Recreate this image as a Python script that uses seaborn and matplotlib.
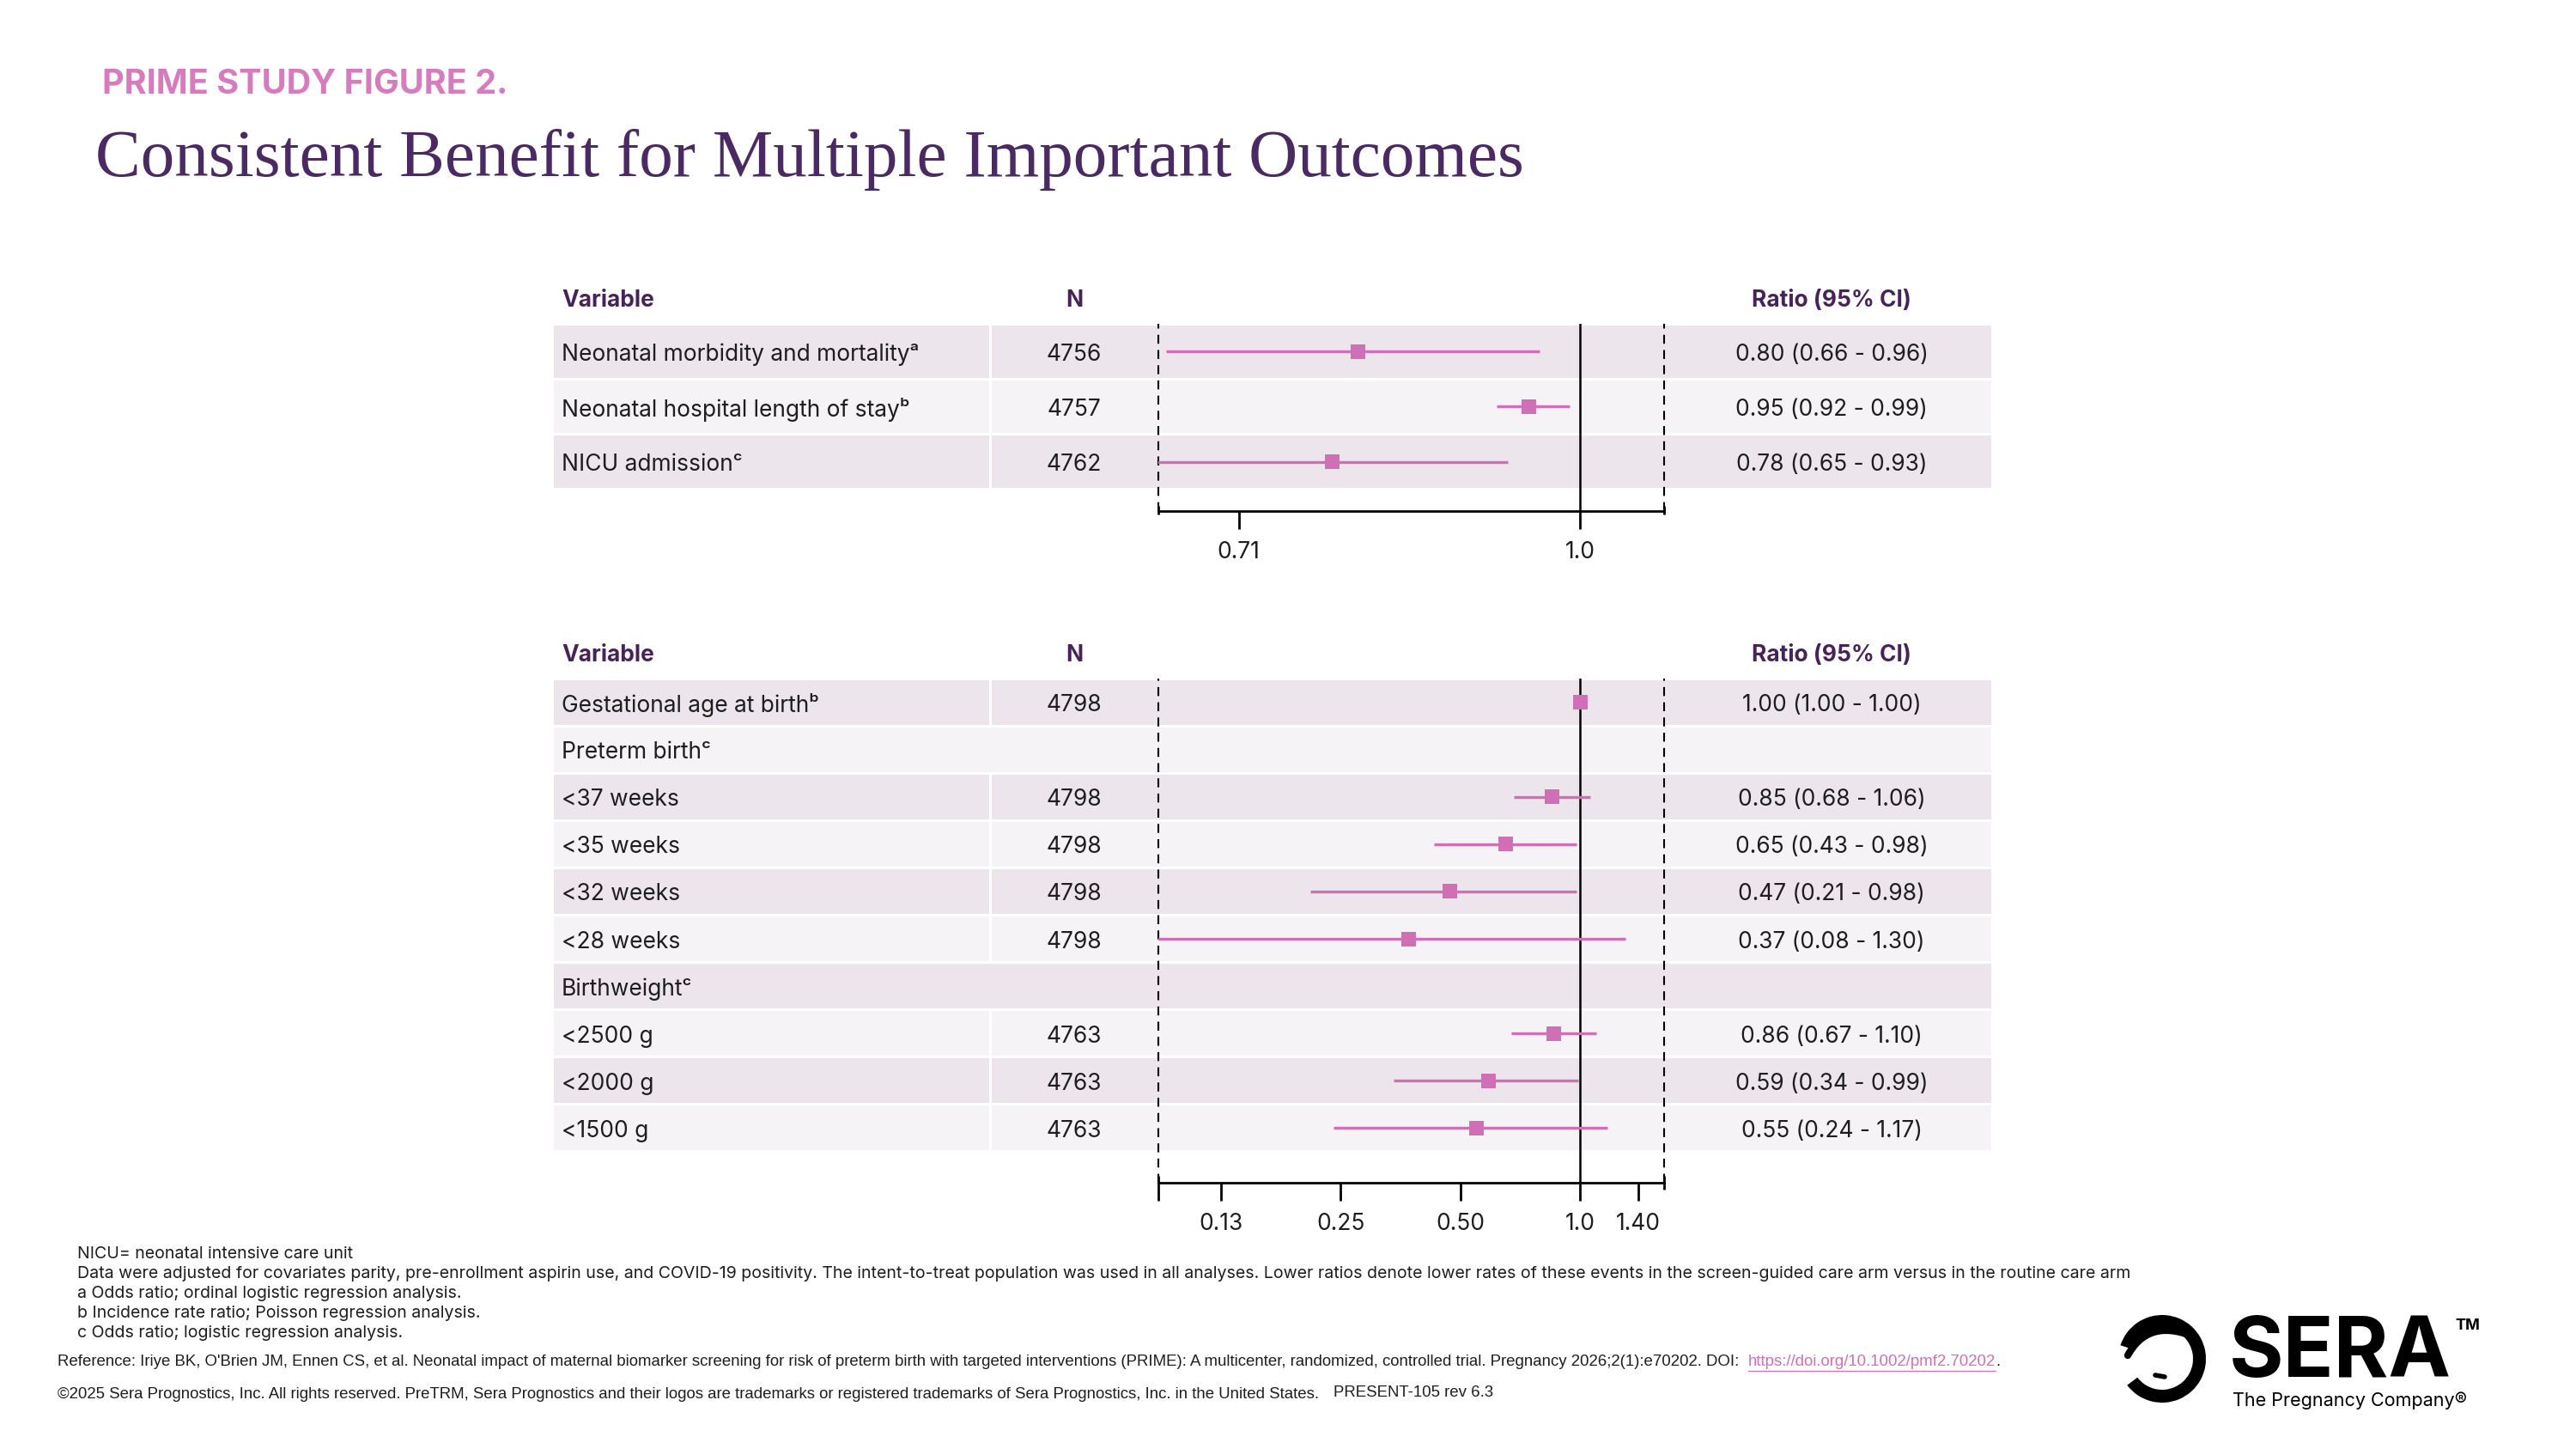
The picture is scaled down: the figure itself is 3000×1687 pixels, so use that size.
import numpy as np
import pandas as pd
import matplotlib
matplotlib.use("Agg")
import matplotlib.pyplot as plt
import seaborn as sns
from matplotlib.patches import Rectangle, Wedge
from matplotlib.ticker import NullLocator

# ---------------- data ----------------
top_variables = ["Neonatal morbidity and mortality", "Neonatal hospital length of stay", "NICU admission"]
top_superscripts = ["ᵃ", "ᵇ", "ᶜ"]
top_n = [4756, 4757, 4762]
top_ratio = [0.80, 0.95, 0.78]
top_lower = [0.66, 0.92, 0.65]
top_upper = [0.96, 0.99, 0.93]
top_ticks = [0.71, 1.0]
top_ticklabels = ["0.71", "1.0"]

bottom_variables = ["Gestational age at birth", "Preterm birth", "<37 weeks", "<35 weeks", "<32 weeks",
                    "<28 weeks", "Birthweight", "<2500 g", "<2000 g", "<1500 g"]
bottom_superscripts = ["ᵇ", "ᶜ", "", "", "", "", "ᶜ", "", "", ""]
bottom_n = [4798, None, 4798, 4798, 4798, 4798, None, 4763, 4763, 4763]
bottom_ratio = [1.00, np.nan, 0.85, 0.65, 0.47, 0.37, np.nan, 0.86, 0.59, 0.55]
bottom_lower = [1.00, np.nan, 0.68, 0.43, 0.21, 0.08, np.nan, 0.67, 0.34, 0.24]
bottom_upper = [1.00, np.nan, 1.06, 0.98, 0.98, 1.30, np.nan, 1.10, 0.99, 1.17]
bottom_ticks = [0.125, 0.25, 0.5, 1.0, 1.4]
bottom_ticklabels = ["0.13", "0.25", "0.50", "1.0", "1.40"]

kicker = "PRIME STUDY FIGURE 2."
title = "Consistent Benefit for Multiple Important Outcomes"
notes = [
    "NICU= neonatal intensive care unit",
    "Data were adjusted for covariates parity, pre-enrollment aspirin use, and COVID-19 positivity. The intent-to-treat population was used in all analyses. Lower ratios denote lower rates of these events in the screen-guided care arm versus in the routine care arm",
    "a Odds ratio; ordinal logistic regression analysis.",
    "b Incidence rate ratio; Poisson regression analysis.",
    "c Odds ratio; logistic regression analysis.",
]
reference_text = ("Reference: Iriye BK, O'Brien JM, Ennen CS, et al. Neonatal impact of maternal biomarker screening for risk of "
                  "preterm birth with targeted interventions (PRIME): A multicenter, randomized, controlled trial. "
                  "Pregnancy 2026;2(1):e70202. DOI:  ")
reference_url = "https://doi.org/10.1002/pmf2.70202"
copyright_text = ("©2025 Sera Prognostics, Inc. All rights reserved. PreTRM, Sera Prognostics and their logos are "
                  "trademarks or registered trademarks of Sera Prognostics, Inc. in the United States.")
doc_code = "PRESENT-105 rev 6.3"

# ---------------- style ----------------
sns.set_theme(style="white")
BODY = ["Inter", "DejaVu Sans"]
plt.rcParams["font.family"] = BODY

W, H = 3000, 1687
fig = plt.figure(figsize=(30, 16.87), dpi=100)
fig.patch.set_facecolor("white")

PINK = "#D06FB5"
KICKER = "#D77BBF"
PURPLE = "#4B2A63"
HEAD = "#47235A"
TXT = "#1E1E1E"
DARK = "#ECE6EC"
LIGHT = "#F5F3F6"

TABLE_L, TABLE_R = 645, 2319
SEP_X = 1154
N_X = 1251
RATIO_X = 2133
VAR_X = 654
PLOT_L, PLOT_R = 1349, 1938
FS = 19
TEXT_DY = 3.5  # px downward nudge for row text
ARIAL = ["Liberation Sans", "DejaVu Sans"]


def fx(px):
    return px / W


# overlay axes in pixel coordinates (titles, notes, logo)
ov = fig.add_axes([0, 0, 1, 1])
ov.set_xlim(0, W)
ov.set_ylim(H, 0)
ov.axis("off")
ov.patch.set_alpha(0)


def forest(labels, sups, ns, ratios, los, his, row_top, row_h, axis_y, header_y,
           xlim, ticks, ticklabels, left_cap, right_cap):
    n_rows = len(labels)
    rows = np.arange(n_rows)
    bottom_ext = (axis_y - (row_top + n_rows * row_h)) / row_h
    ylim = (n_rows - 0.5 + bottom_ext, -0.5)
    ax_h = axis_y - row_top
    rect = [fx(TABLE_L), 1 - axis_y / H, fx(TABLE_R - TABLE_L), ax_h / H]
    dy = TEXT_DY / row_h

    bg = fig.add_axes(rect)
    bg.set_xlim(TABLE_L, TABLE_R)
    bg.set_ylim(*ylim)
    bg.axis("off")
    gap = 3.0 / row_h
    for i in rows:
        col = DARK if i % 2 == 0 else LIGHT
        bg.add_patch(Rectangle((TABLE_L, i - 0.5 + gap / 2), TABLE_R - TABLE_L, 1 - gap,
                               facecolor=col, lw=0))
        if ns[i] is not None:
            bg.add_patch(Rectangle((SEP_X - 1.5, i - 0.5), 3, 1, facecolor="white", lw=0))
            bg.text(N_X, i + dy, str(ns[i]), ha="center", va="center", fontsize=FS, color=TXT)
            bg.text(RATIO_X, i + dy, f"{ratios[i]:.2f} ({los[i]:.2f} - {his[i]:.2f})",
                    ha="center", va="center", fontsize=FS, color=TXT)
        bg.text(VAR_X, i + dy, labels[i] + sups[i], ha="left", va="center", fontsize=FS, color=TXT)
    hy = -0.5 - (row_top - header_y) / row_h + dy
    for x, s, ha in [(VAR_X, "Variable", "left"), (N_X, "N", "center"), (RATIO_X, "Ratio (95% CI)", "center")]:
        bg.text(x, hy, s, ha=ha, va="center", fontsize=FS, fontweight="bold", color=HEAD)

    fax = fig.add_axes([fx(PLOT_L), 1 - axis_y / H, fx(PLOT_R - PLOT_L), ax_h / H])
    fax.patch.set_alpha(0)
    fax.set_xscale("log")
    df = pd.DataFrame({"row": rows, "ratio": ratios, "lo": los, "hi": his}).dropna()
    fax.hlines(df["row"], df["lo"], df["hi"], color=PINK, lw=2.4, zorder=3)
    sns.scatterplot(data=df, x="ratio", y="row", marker="s", s=150, color=PINK,
                    edgecolor="none", linewidth=0, ax=fax, zorder=4, legend=False)
    fax.set_xlim(*xlim)
    fax.set_ylim(*ylim)
    fax.axvline(1.0, color="black", lw=1.8, zorder=2)
    for xv in xlim:
        fax.axvline(xv, ymin=0, ymax=1, color="black", lw=1.5, ls=(0, (5, 3.5)),
                    clip_on=False, zorder=2)
    for xv, (up, down) in zip(xlim, [left_cap, right_cap]):
        fax.plot([xv, xv], [ylim[0] - up / row_h, ylim[0] + down / row_h], color="black",
                 lw=2, clip_on=False, solid_capstyle="butt", zorder=5)
    fax.set_xticks(ticks)
    fax.set_xticklabels(ticklabels)
    fax.xaxis.set_minor_locator(NullLocator())
    fax.tick_params(axis="x", which="major", direction="out", length=15, width=2,
                    labelsize=FS, pad=10, colors="black", bottom=True, labelcolor=TXT)
    fax.tick_params(axis="y", left=False, labelleft=False)
    for s in ["top", "left", "right"]:
        fax.spines[s].set_visible(False)
    fax.spines["bottom"].set_linewidth(2)
    fax.spines["bottom"].set_color("black")
    fax.set_xlabel("")
    fax.set_ylabel("")
    fax.grid(False)
    return fax


forest(top_variables, top_superscripts, top_n, top_ratio, top_lower, top_upper,
       row_top=377, row_h=64.3, axis_y=595, header_y=346, xlim=(0.655, 1.088),
       ticks=top_ticks, ticklabels=top_ticklabels, left_cap=(6, 4), right_cap=(6, 4))

forest(bottom_variables, bottom_superscripts, bottom_n, bottom_ratio, bottom_lower, bottom_upper,
       row_top=790, row_h=55.1, axis_y=1377, header_y=759, xlim=(0.0869, 1.628),
       ticks=bottom_ticks, ticklabels=bottom_ticklabels, left_cap=(8, 21), right_cap=(8, 8))

# ---------------- titles ----------------
ov.text(119, 109, kicker, ha="left", va="baseline", fontsize=28.5, fontweight="bold", color=KICKER)
ov.text(111, 205, title, ha="left", va="baseline", fontsize=57,
        family=["Liberation Serif", "DejaVu Serif"], color=PURPLE)

# ---------------- notes ----------------
for k, line in enumerate(notes):
    ov.text(90, 1460 + 23 * k, line, ha="left", va="center", fontsize=14.1, color=TXT)

renderer = fig.canvas.get_renderer()
ref = ov.text(67, 1586, reference_text, ha="left", va="center", fontsize=13.4,
              family=ARIAL, color=TXT)
bb = ref.get_window_extent(renderer=renderer)
url = ov.text(bb.x1, 1586, reference_url, ha="left", va="center", fontsize=13.4,
              family=ARIAL, color=PINK)
ub = url.get_window_extent(renderer=renderer)
ov.plot([ub.x0, ub.x1], [1596, 1596], color=PINK, lw=0.9)
ov.text(ub.x1 + 1, 1586, ".", ha="left", va="center", fontsize=13.4, family=ARIAL, color=TXT)
ov.text(67, 1624, copyright_text, ha="left", va="center", fontsize=13.4, family=ARIAL, color=TXT)
ov.text(1553, 1621, doc_code, ha="left", va="center", fontsize=13.4, family=ARIAL, color=TXT)

# ---------------- logo ----------------
cx, cy = 2518, 1582
ov.add_patch(Wedge((cx, cy), 51, 198, 503, width=15, facecolor="black", lw=0))
t = np.linspace(0, 1, 50)
p0, p1, p2 = np.array([2478, 1578]), np.array([2500, 1538]), np.array([2546, 1553])
curve = ((1 - t) ** 2)[:, None] * p0 + (2 * (1 - t) * t)[:, None] * p1 + (t ** 2)[:, None] * p2
ov.plot(curve[:, 0], curve[:, 1], color="black", lw=6, solid_capstyle="round")
ov.plot([2510, 2521], [1601, 1603], color="black", lw=4, solid_capstyle="round")
sera = ov.text(2596, 1603, "SERA", ha="left", va="baseline", fontsize=70, fontweight="bold", color="black")
sb = sera.get_window_extent(renderer=renderer)
ov.text(sb.x1 + 4, 1548, "TM", ha="left", va="baseline", fontsize=13, fontweight="bold", color="black")
ov.text(2600, 1637, "The Pregnancy Company®", ha="left", va="baseline", fontsize=15.5, color="black")

fig.savefig("out.png", dpi=100, facecolor="white")
